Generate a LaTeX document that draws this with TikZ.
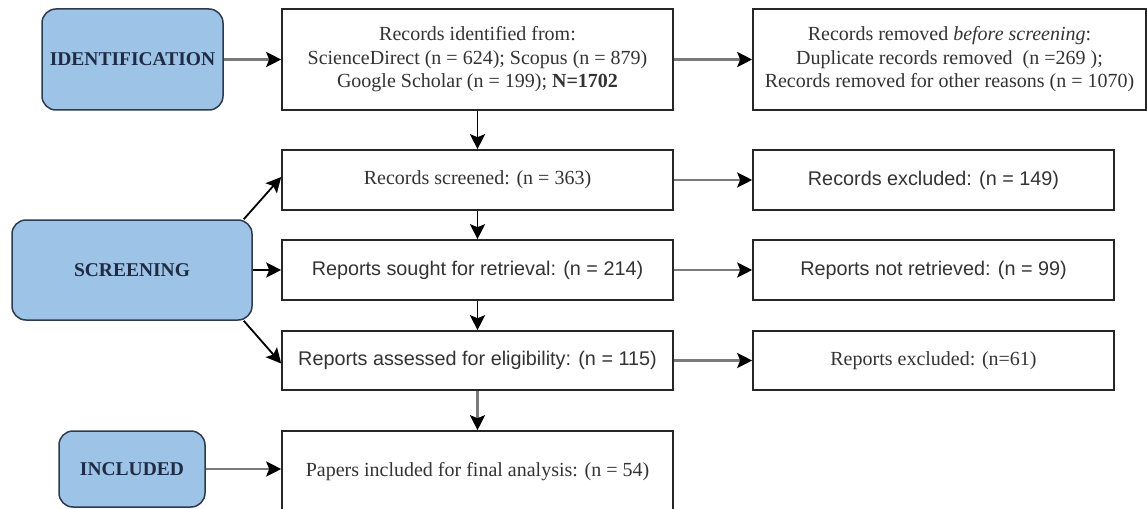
\documentclass[tikz,border=0pt]{standalone}
\usepackage{fontspec}
\setmainfont{Liberation Serif}
\newfontfamily\arialfont{Liberation Sans}
\usetikzlibrary{arrows.meta}
\definecolor{phase}{HTML}{9DC3E6}
\definecolor{phaseline}{HTML}{2E3B4E}
\definecolor{phasetext}{HTML}{1F2A44}
\definecolor{bodytext}{HTML}{333333}
\definecolor{grayline}{HTML}{7A7A7A}
\tikzset{
  phasebox/.style={draw=phaseline, fill=phase, line width=1.5pt, rounded corners=14pt,
    font=\fontsize{19.5}{22}\selectfont\bfseries, text=phasetext, inner sep=0pt},
  flowbox/.style={draw=black!85, line width=1.6pt, fill=white, inner sep=0pt,
    align=center, text=bodytext, font=\fontsize{20}{23.5}\selectfont},
  sansbox/.style={flowbox, font=\fontsize{19.8}{23}\selectfont\arialfont},
  grayarrow/.style={draw=grayline, line width=2.6pt, -{Stealth[length=15pt,width=15pt,inset=3pt,color=black]}},
  blackarrow/.style={draw=black, line width=1.8pt, -{Stealth[length=15pt,width=15pt,inset=3pt]}},
}
\begin{document}
\begin{tikzpicture}[x=1pt,y=-1pt]
\clip (0,0) rectangle (1147,508);
\fill[white] (0,0) rectangle (1147,508);

\node[phasebox, minimum width=181pt, minimum height=101pt] (ident) at (132.5,59.5) {IDENTIFICATION};
\node[phasebox, minimum width=240pt, minimum height=100pt] (screening) at (132,270) {SCREENING};
\node[phasebox, minimum width=146pt, minimum height=76pt] (included) at (132,469) {INCLUDED};

\node[flowbox, minimum width=391pt, minimum height=101pt] (recid) at (477.5,59.5)
  {Records identified from:\\ScienceDirect (n = 624); Scopus (n = 879)\\Google Scholar (n = 199); \textbf{N=1702}};
\node[flowbox, minimum width=393pt, minimum height=101pt] (removed) at (949.5,59.5)
  {Records removed \textit{before screening}:\\Duplicate records removed\ \ (n =269 );\\Records removed for other reasons (n = 1070)};

\node[flowbox, minimum width=391pt, minimum height=60pt] (screened) at (477.5,180) {Records screened: (n = 363)};
\node[sansbox, minimum width=391pt, minimum height=60pt] (sought) at (477.5,270) {Reports sought for retrieval: (n = 214)};
\node[sansbox, minimum width=391pt, minimum height=59pt] (assessed) at (477.5,360.5) {Reports assessed for eligibility: (n = 115)};
\node[flowbox, minimum width=391pt, minimum height=82pt] (papers) at (477.5,472) {Papers included for final analysis: (n = 54)};

\node[sansbox, minimum width=361pt, minimum height=60pt] (excl) at (933.5,180) {Records excluded: (n = 149)};
\node[sansbox, minimum width=361pt, minimum height=60pt] (notret) at (933.5,270) {Reports not retrieved: (n = 99)};
\node[flowbox, minimum width=361pt, minimum height=59pt] (repexcl) at (933.5,360.5) {Reports excluded: (n=61)};

\draw[grayarrow] (ident) -- (recid);
\draw[grayarrow] (recid) -- (removed);
\draw[blackarrow] (recid) -- (screened);
\draw[blackarrow] (screened) -- (sought);
\draw[blackarrow] (sought) -- (assessed);
\draw[grayarrow, line width=2.2pt] (assessed) -- (papers);
\draw[grayarrow] (screened) -- (excl);
\draw[grayarrow] (sought) -- (notret);
\draw[grayarrow] (assessed) -- (repexcl);
\draw[blackarrow] ([xshift=-9pt]screening.north east) -- ([yshift=3pt]screened.west);
\draw[blackarrow] (screening) -- (sought);
\draw[blackarrow] ([xshift=-9pt]screening.south east) -- ([yshift=-3pt]assessed.west);
\draw[grayarrow] (included) -- (included -| papers.west);
\end{tikzpicture}
\end{document}
